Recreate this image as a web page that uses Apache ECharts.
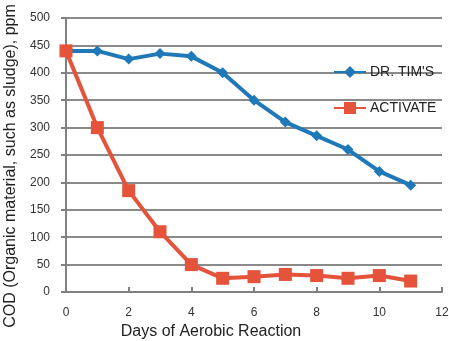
<!DOCTYPE html>
<html>
<head>
<meta charset="utf-8">
<script src="https://cdn.jsdelivr.net/npm/echarts@6/dist/echarts.min.js"></script>
<style>html,body{margin:0;padding:0;background:#fff}#c{width:449px;height:341px}</style>
</head>
<body>
<div id="c"></div>
<script>
const days = [0,1,2,3,4,5,6,7,8,9,10,11];
const drTims = [440,440,425,435,430,400,350,310,285,260,220,195];
const activate = [440,300,185,110,50,25,28,32,30,25,30,20];
const seriesNames = ["DR. TIM'S", "ACTIVATE"];
const xTitle = "Days of Aerobic Reaction";
const yTitle = "COD (Organic material, such as sludge), ppm";

const font = "Liberation Sans";
const chart = echarts.init(document.getElementById('c'), null, {renderer: 'canvas'});
chart.setOption({
  animation: false,
  backgroundColor: '#fff',
  grid: {left: 66, right: 7, top: 18, bottom: 49, outerBoundsMode: 'none', containLabel: false},
  legend: {
    orient: 'vertical', left: 328, top: 60, itemGap: 22,
    itemWidth: 32, itemHeight: 15,
    textStyle: {fontFamily: font, fontSize: 14, color: '#222', padding: [0, 0, 0, -1]},
    data: seriesNames
  },
  xAxis: {
    type: 'value', min: 0, max: 12, interval: 2,
    name: xTitle, nameLocation: 'middle', nameGap: 28,
    nameTextStyle: {fontFamily: font, fontSize: 16, color: '#222', padding: [0, 86, 0, 0]},
    axisLine: {lineStyle: {color: '#808080', width: 2}},
    axisTick: {show: true, inside: true, length: 5, lineStyle: {color: '#808080', width: 2}},
    axisLabel: {fontFamily: font, fontSize: 12, color: '#333', margin: 15},
    splitLine: {show: false}
  },
  yAxis: {
    type: 'value', min: 0, max: 500, interval: 50,
    name: yTitle, nameLocation: 'middle', nameGap: 45,
    nameTextStyle: {fontFamily: font, fontSize: 16, color: '#222', padding: [0, 22, 0, 0]},
    axisLine: {show: true, lineStyle: {color: '#808080', width: 2}},
    axisTick: {show: true, length: 5, lineStyle: {color: '#808080', width: 2}},
    axisLabel: {fontFamily: font, fontSize: 12, color: '#333', margin: 16},
    splitLine: {lineStyle: {color: '#8a8a8a', width: 2}}
  },
  series: [
    {
      name: seriesNames[0], type: 'line',
      data: days.map((d, i) => [d, drTims[i]]),
      symbol: 'diamond', symbolSize: 11,
      lineStyle: {color: '#1f78b8', width: 4},
      itemStyle: {color: '#1f78b8'}
    },
    {
      name: seriesNames[1], type: 'line',
      data: days.map((d, i) => [d, activate[i]]),
      symbol: 'rect', symbolSize: 13,
      lineStyle: {color: '#e4533a', width: 4},
      itemStyle: {color: '#e4533a'}
    }
  ]
});
</script>
</body>
</html>
